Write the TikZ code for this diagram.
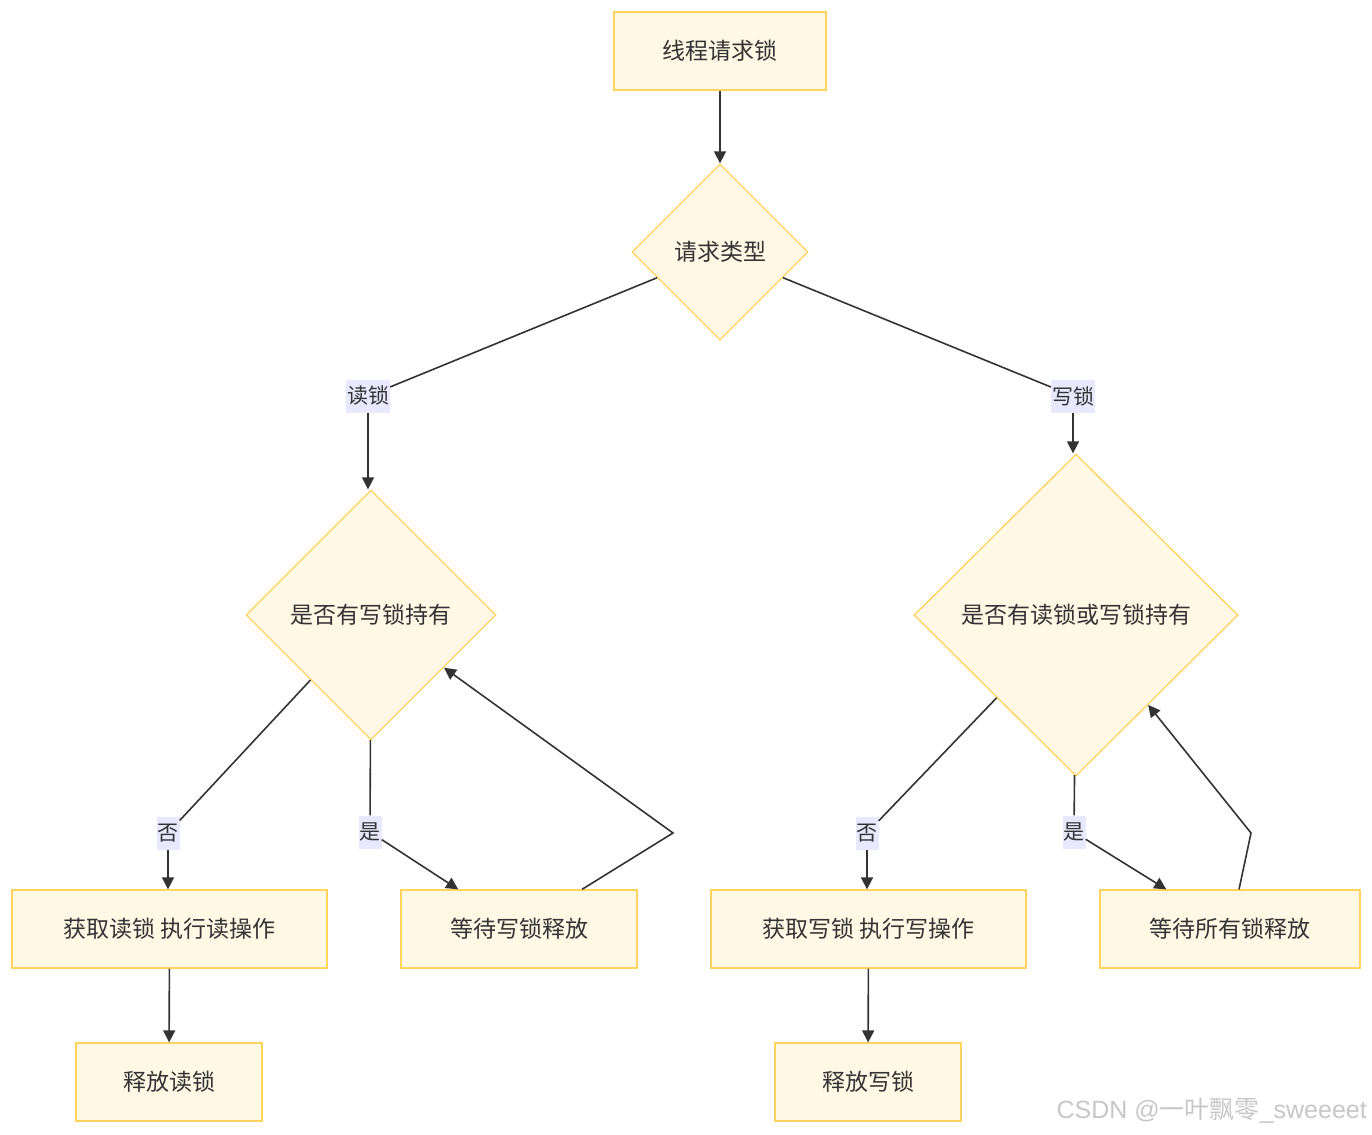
\documentclass[tikz,border=0pt]{standalone}
\usepackage{fontspec}
\setmainfont{Noto Sans CJK SC}
\newfontfamily\marksans{Liberation Sans}
\usepackage{tikz}
\usetikzlibrary{arrows.meta, shapes.geometric}
\definecolor{nodefill}{HTML}{FFF8E4}
\definecolor{nodeline}{HTML}{FFD45E}
\definecolor{ink}{HTML}{333333}
\definecolor{labelbg}{HTML}{E8E8FF}
\tikzset{> = { Triangle[length = 12pt, width = 12pt] }}
\tikzset{
	box/.style = {draw = nodeline, fill = nodefill, line width = 1.3pt, text = ink,
		font = \fontsize{23}{28}\selectfont, minimum height = 78pt, inner sep = 0pt},
	decision/.style = {diamond, aspect = 1, draw = nodeline, fill = nodefill, line width = 1.3pt,
		text = ink, font = \fontsize{23}{28}\selectfont, inner sep = 0pt},
	edgelabel/.style = {fill = labelbg, text = ink, font = \fontsize{21}{25}\selectfont,
		inner sep = 1pt, minimum height = 33pt},
	link/.style = {draw = ink, line width = 1.6pt},
}

\begin{document}
\begin{tikzpicture}[x = 1pt, y = -1pt]
	\useasboundingbox (0, 0) rectangle (1372, 1134);

	\node [box, minimum width = 212pt] (start) at (720, 51) {线程请求锁};
	\node [decision, minimum width = 176pt, minimum height = 176pt] (type) at (720, 252) {请求类型};

	\node [edgelabel] (lread) at (368, 396) {读锁};
	\node [edgelabel] (lwrite) at (1073, 396) {写锁};

	\node [decision, minimum width = 250pt, minimum height = 250pt] (hasw) at (371, 615) {是否有写锁持有};
	\node [decision, minimum width = 324pt, minimum height = 322pt] (hasrw) at (1076, 615) {是否有读锁或写锁持有};

	\node [edgelabel] (lno) at (168, 833) {否};
	\node [edgelabel] (lyes) at (370, 832) {是};
	\node [edgelabel] (rno) at (867, 833) {否};
	\node [edgelabel] (ryes) at (1074, 832) {是};

	\node [box, minimum width = 315pt] (rdbox) at (169.5, 929) {获取读锁 执行读操作};
	\node [box, minimum width = 236pt] (waitw) at (519, 929) {等待写锁释放};
	\node [box, minimum width = 315pt] (wrbox) at (868.5, 929) {获取写锁 执行写操作};
	\node [box, minimum width = 260pt] (waitall) at (1230, 929) {等待所有锁释放};

	\node [box, minimum width = 186pt] (relr) at (169, 1082) {释放读锁};
	\node [box, minimum width = 186pt] (relw) at (868, 1082) {释放写锁};

	\coordinate (bend1) at (673, 833);
	\coordinate (bend2) at (1251, 833);

	\draw [link, ->] (start) -- (type);

	% Read branch.
	\draw [link] (type) -- (lread);
	\draw [link, ->] (lread) -- (lread |- hasw.north);
	\draw [link] (hasw) -- (lno);
	\draw [link, ->] (lno) -- (lno |- rdbox.north);
	\draw [link] (hasw) -- (lyes);
	\draw [link, ->] (lyes) -- (waitw);
	\draw [link, ->] ([xshift = 63pt] waitw.north) -- (bend1) -- (hasw);
	\draw [link, ->] (rdbox) -- (relr);

	% Write branch.
	\draw [link] (type) -- (lwrite);
	\draw [link, ->] (lwrite) -- (lwrite |- hasrw.north);
	\draw [link] (hasrw) -- (rno);
	\draw [link, ->] (rno) -- (rno |- wrbox.north);
	\draw [link] (hasrw) -- (ryes);
	\draw [link, ->] (ryes) -- (waitall);
	\draw [link, ->] ([xshift = 9pt] waitall.north) -- (bend2) -- (hasrw);
	\draw [link, ->] (wrbox) -- (relw);

	\node [text = black!22, font = \fontsize{25}{30}\selectfont, anchor = east, inner sep = 0pt] (watermark)
		at (1367, 1111) {{\marksans CSDN @}一叶飘零{\marksans \_sweeeet}};
\end{tikzpicture}
\end{document}
